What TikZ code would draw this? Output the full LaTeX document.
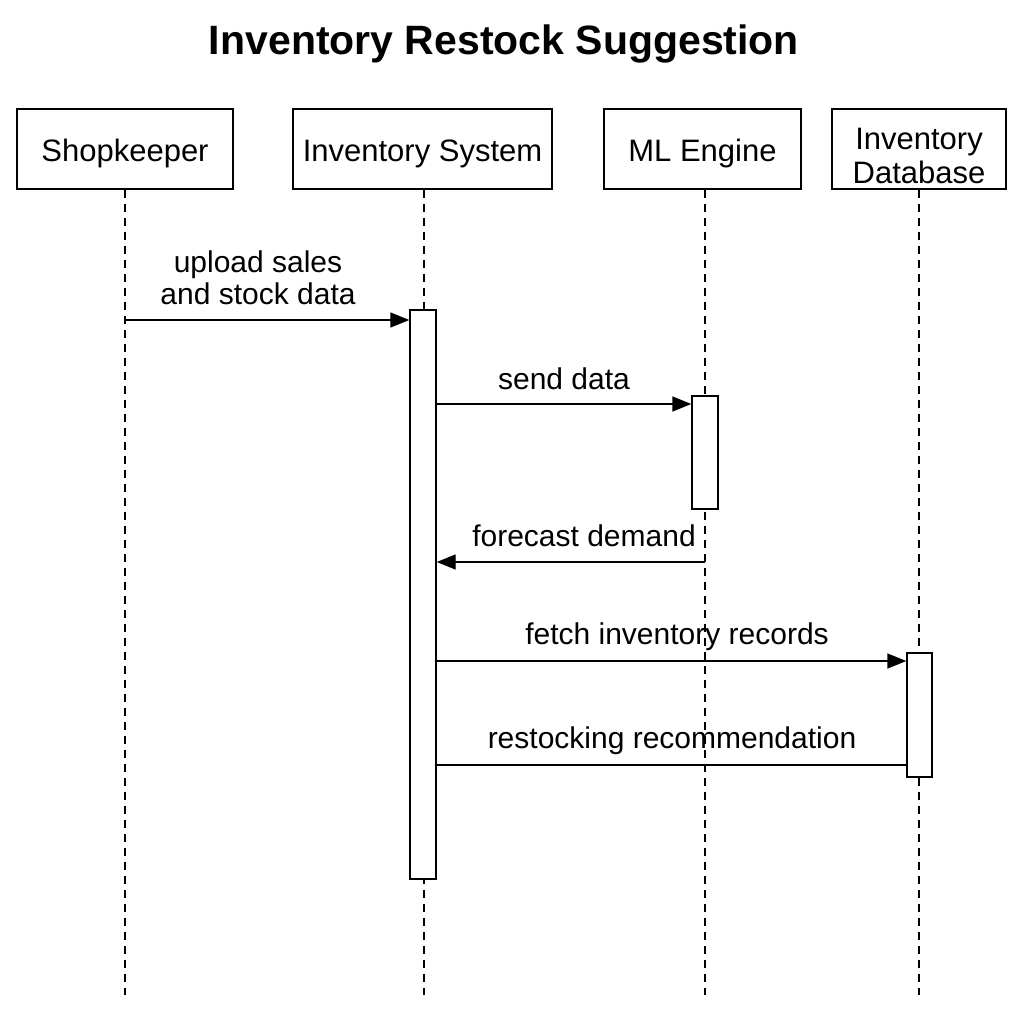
\documentclass[tikz,border=0pt]{standalone}
\usepackage{fontspec}
\setmainfont{Liberation Sans}
\usetikzlibrary{arrows.meta}
\begin{document}
\begin{tikzpicture}[x=1pt,y=-1pt,
  actorbox/.style={draw,line width=1.4pt,minimum height=80pt,inner sep=0pt,font=\fontsize{31}{34}\selectfont,align=center},
  actor/.style={actorbox,text height=31pt},
  act/.style={draw,line width=1.4pt,fill=white,minimum width=26pt,inner sep=0pt},
  life/.style={line width=1.3pt,dash pattern=on 8pt off 6pt},
  msg/.style={line width=1.4pt,-{Triangle[length=19pt,width=15pt]}},
  plain/.style={line width=1.4pt},
  lbl/.style={font=\fontsize{30}{32}\selectfont,align=center}]
\useasboundingbox (0,0) rectangle (1024,1024);
\fill[white] (0,0) rectangle (1024,1024);
\node[font=\bfseries\fontsize{41}{44}\selectfont] (title) at (504,44) {Inventory Restock Suggestion};
% actors
\node[actor,minimum width=216pt] (shop) at (125,149) {Shopkeeper};
\node[actor,minimum width=259pt] (inv) at (422.5,149) {Inventory System};
\node[actor,minimum width=197pt] (ml) at (702.5,149) {ML Engine};
\node[actorbox,minimum width=174pt] (db) at (919,149) {\rule{0pt}{34.5pt}Inventory\\Database};
% lifeline ends
\coordinate (shopE) at (125,995);
\coordinate (invE) at (424,995);
\coordinate (mlE) at (705,995);
\coordinate (dbE) at (919,995);
\draw[life] (shop.south) -- (shopE);
\draw[life] (inv.south -| invE) -- (invE);
\draw[life] (ml.south -| mlE) -- (mlE);
\draw[life] (db.south) -- (dbE);
% activations
\node[act,minimum height=569pt] (a1) at (423,594.5) {};
\node[act,minimum height=113pt] (a2) at (705,452.5) {};
\node[act,minimum height=124pt,minimum width=25pt] (a3) at (919.5,715) {};
% messages
\coordinate (m1s) at (125,320);
\draw[msg] (m1s) -- (m1s -| a1.west);
\node[lbl] (l1) at (258,278) {upload sales\\and stock data};
\coordinate (m2s) at (436,404);
\draw[msg] (m2s) -- (m2s -| a2.west);
\node[lbl] (l2) at (564,379) {send data};
\coordinate (m3s) at (705,562);
\draw[msg] (m3s) -- (m3s -| a1.east);
\node[lbl] (l3) at (584,536) {forecast demand};
\coordinate (m4s) at (436,661);
\draw[msg] (m4s) -- (m4s -| a3.west);
\node[lbl] (l4) at (677,637) {fetch inventory records};
\coordinate (m5s) at (907,765);
\draw[plain] (m5s) -- (m5s -| a1.east);
\node[lbl] (l5) at (672,741) {restocking recommendation};
\end{tikzpicture}
\end{document}
